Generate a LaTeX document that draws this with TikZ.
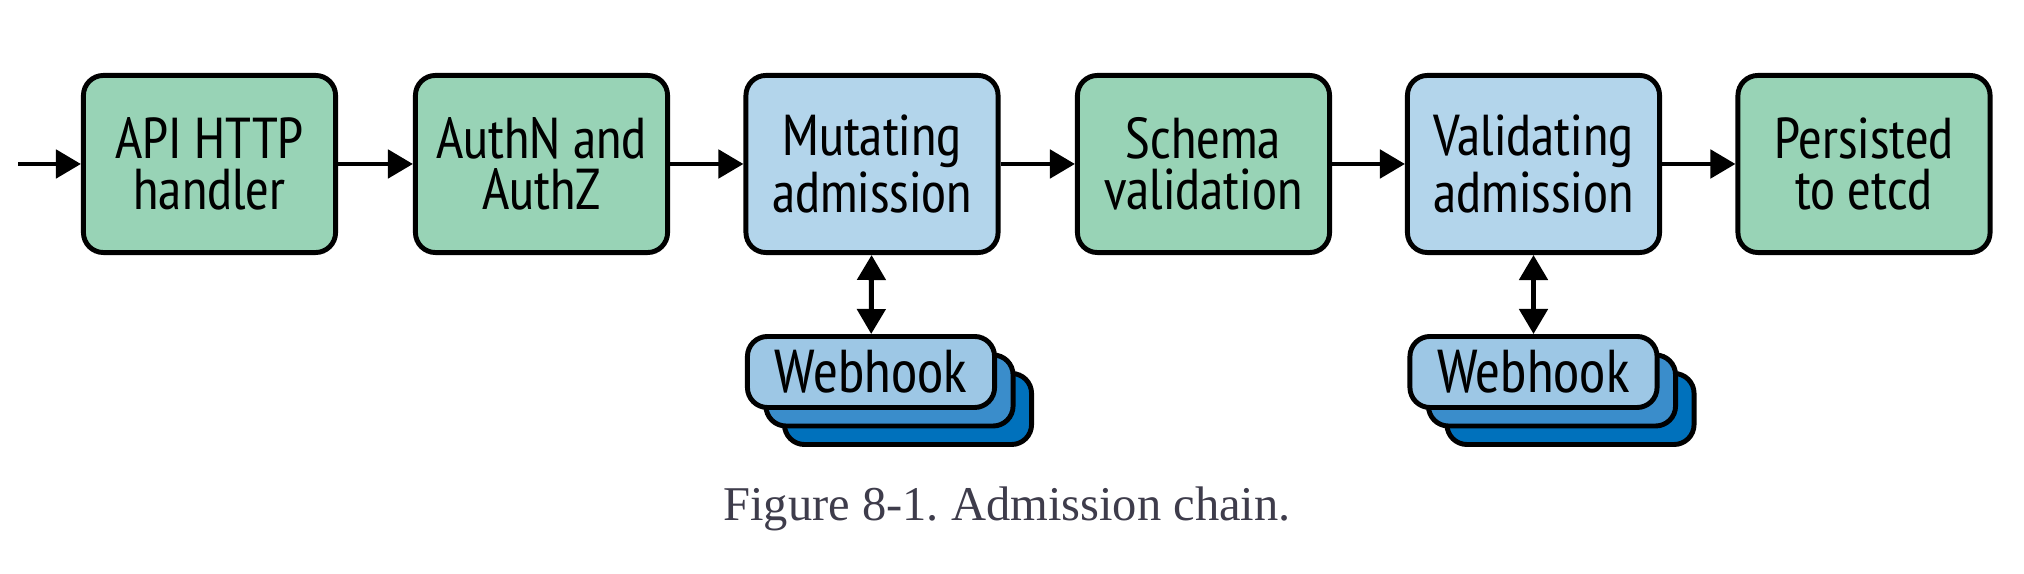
\documentclass[tikz,border=0pt]{standalone}
\usepackage{fontspec}
\setmainfont{Liberation Serif}
\newfontfamily\boxfont{PT Sans Narrow}
\usetikzlibrary{arrows.meta}
\definecolor{stepgreen}{HTML}{98D3B6}
\definecolor{stepblue}{HTML}{B3D5EB}
\definecolor{hookA}{HTML}{9DC7E5}
\definecolor{hookB}{HTML}{3A8DCB}
\definecolor{hookC}{HTML}{0071BC}
\definecolor{captiongray}{HTML}{3E3C4B}
\tikzset{
  stagebox/.style={draw=black, line width=1.4pt, rounded corners=0.2cm,
    minimum width=2.52cm, minimum height=1.77cm, align=center, inner sep=0pt,
    font=\boxfont\fontsize{16.4pt}{14.4pt}\selectfont},
  greenbox/.style={stagebox, fill=stepgreen},
  bluebox/.style={stagebox, fill=stepblue},
  hookbox/.style={draw=black, line width=1.4pt, rounded corners=0.2cm,
    minimum width=2.47cm, minimum height=0.71cm, inner sep=0pt,
    font=\boxfont\fontsize{17.2pt}{14.4pt}\selectfont},
  flow/.style={line width=1.4pt, -{Triangle[length=0.25cm,width=0.28cm]}},
  twoway/.style={line width=1.4pt, {Triangle[length=0.25cm,width=0.28cm]}-{Triangle[length=0.25cm,width=0.28cm]}},
  captionstyle/.style={font=\frenchspacing\fontsize{13.8pt}{16pt}\selectfont, text=captiongray, inner sep=0pt}
}
\begin{document}
\begin{tikzpicture}[x=0.01cm,y=-0.01cm]
\useasboundingbox (0,0) rectangle (2024,574);
\coordinate (start) at (18,164);
\node[greenbox] (api) at (209.5,164) {API HTTP\\handler};
\node[greenbox] (auth) at (541.5,164) {AuthN and\\AuthZ};
\node[bluebox] (mut) at (872,164) {Mutating\\admission};
\node[greenbox] (schema) at (1203.5,164) {Schema\\validation};
\node[bluebox] (val) at (1533.5,164) {Validating\\admission};
\node[greenbox] (etcd) at (1864,164) {Persisted\\to etcd};

% webhook stack 1
\node[hookbox, fill=hookC] (mwc) at (871+37,372+37) {};
\node[hookbox, fill=hookB] (mwb) at (871+18.5,372+18.5) {};
\node[hookbox, fill=hookA] (mwa) at (871,372) {Webhook};
% webhook stack 2
\node[hookbox, fill=hookC] (vwc) at (1533.5+37,372+37) {};
\node[hookbox, fill=hookB] (vwb) at (1533.5+18.5,372+18.5) {};
\node[hookbox, fill=hookA] (vwa) at (1533.5,372) {Webhook};

\draw[flow] (start) -- (api);
\draw[flow] (api) -- (auth);
\draw[flow] (auth) -- (mut);
\draw[flow] (mut) -- (schema);
\draw[flow] (schema) -- (val);
\draw[flow] (val) -- (etcd);
\draw[twoway] (mut) -- (mwa);
\draw[twoway] (val) -- (vwa);

\node[captionstyle, anchor=base] (cap) at (1007,521) {Figure 8-1. Admission chain.};
\end{tikzpicture}
\end{document}
